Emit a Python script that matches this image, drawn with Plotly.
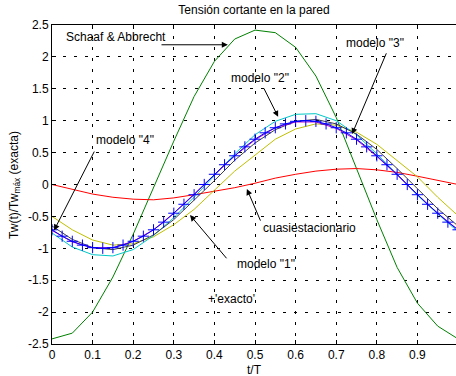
import plotly.graph_objects as go

# ---------------- data ----------------
t_exacto = [0.0, 0.025, 0.05, 0.075, 0.1, 0.125, 0.15, 0.175, 0.2, 0.225,
            0.25, 0.275, 0.3, 0.325, 0.35, 0.375, 0.4, 0.425, 0.45, 0.475,
            0.5, 0.525, 0.55, 0.575, 0.6, 0.625, 0.65, 0.675, 0.7, 0.725,
            0.75, 0.775, 0.8, 0.825, 0.85, 0.875, 0.9, 0.925, 0.95, 0.975, 1.0]
exacto = [-0.71, -0.81, -0.89, -0.95, -0.99, -1.0, -0.99, -0.95, -0.89, -0.81,
          -0.71, -0.59, -0.45, -0.31, -0.16, 0.0, 0.16, 0.31, 0.45, 0.59,
          0.71, 0.81, 0.89, 0.95, 0.99, 1.0, 0.99, 0.95, 0.89, 0.81,
          0.71, 0.59, 0.45, 0.31, 0.16, 0.0, -0.16, -0.31, -0.45, -0.59, -0.71]

t = [0.0, 0.05, 0.1, 0.15, 0.2, 0.25, 0.3, 0.35, 0.4, 0.45, 0.5,
     0.55, 0.6, 0.65, 0.7, 0.75, 0.8, 0.85, 0.9, 0.95, 1.0]
schaaf = [-2.42, -2.33, -2.0, -1.45, -0.78, -0.05, 0.68, 1.38, 1.93, 2.28, 2.42,
          2.38, 2.15, 1.70, 1.05, 0.25, -0.55, -1.3, -1.86, -2.22, -2.42]
cuasi = [0.0, -0.08, -0.15, -0.20, -0.23, -0.24, -0.21, -0.16, -0.11, -0.05, 0.02,
         0.10, 0.16, 0.21, 0.24, 0.25, 0.23, 0.19, 0.13, 0.07, 0.0]
modelo1 = [-0.50, -0.71, -0.87, -0.95, -0.93, -0.82, -0.63, -0.39, -0.09, 0.21, 0.46,
           0.71, 0.87, 0.95, 0.93, 0.82, 0.63, 0.38, 0.12, -0.20, -0.49]
modelo2 = [-0.76, -0.98, -1.10, -1.12, -1.02, -0.80, -0.52, -0.20, 0.14, 0.48, 0.78,
           0.99, 1.10, 1.11, 1.00, 0.78, 0.48, 0.16, -0.17, -0.46, -0.74]
modelo3 = [-0.65, -0.86, -0.99, -1.02, -0.95, -0.79, -0.55, -0.25, 0.06, 0.38, 0.65,
           0.86, 0.99, 1.02, 0.95, 0.79, 0.55, 0.25, -0.06, -0.38, -0.65]
modelo4 = [-0.72, -0.90, -0.99, -0.99, -0.89, -0.71, -0.45, -0.15, 0.16, 0.45, 0.70,
           0.89, 0.98, 0.98, 0.88, 0.70, 0.44, 0.15, -0.16, -0.45, -0.71]

x_ticks = [0, 0.1, 0.2, 0.3, 0.4, 0.5, 0.6, 0.7, 0.8, 0.9, 1.0]
x_labels = ["0", "0.1", "0.2", "0.3", "0.4", "0.5", "0.6", "0.7", "0.8", "0.9", "1"]
y_ticks = [-2.5, -2, -1.5, -1, -0.5, 0, 0.5, 1, 1.5, 2, 2.5]
y_labels = ["-2.5", "-2", "-1.5", "-1", "-0.5", "0", "0.5", "1", "1.5", "2", "2.5"]

FONT = "Liberation Sans, Arial, Helvetica, sans-serif"

fig = go.Figure()

def line(x, y, color):
    fig.add_trace(go.Scatter(x=x, y=y, mode="lines",
                             line=dict(color=color, width=1), showlegend=False,
                             hoverinfo="skip"))

line(t, schaaf, "#008000")
line(t, cuasi, "#FF0000")
line(t, modelo1, "#BFBF00")
line(t, modelo2, "#00C8C8")
line(t, modelo3, "#404040")
line(t, modelo4, "#C000C0")
fig.add_trace(go.Scatter(x=t_exacto, y=exacto, mode="lines+markers",
                         line=dict(color="#0000FF", width=1),
                         marker=dict(symbol="cross-thin", size=8,
                                     line=dict(color="#0000FF", width=1)),
                         showlegend=False, hoverinfo="skip"))

# ---------------- annotations ----------------
def arrow(x, y, ax, ay):
    fig.add_annotation(x=x, y=y, ax=ax, ay=ay, xref="x", yref="y",
                       axref="x", ayref="y", text="", showarrow=True,
                       arrowhead=2, arrowsize=1.2, arrowwidth=1,
                       arrowcolor="black")

def label(x, y, txt):
    fig.add_annotation(x=x, y=y, xref="x", yref="y", text=txt,
                       showarrow=False, font=dict(family=FONT, size=12, color="black"))

label(0.158, 2.31, "Schaaf &amp; Abbrecht")
arrow(0.433, 2.19, 0.266, 2.19)
label(0.179, 0.70, 'modelo "4"')
arrow(0.005, -0.72, 0.106, 0.54)
label(0.513, 1.67, 'modelo "2"')
arrow(0.557, 1.06, 0.52, 1.53)
label(0.796, 2.22, 'modelo "3"')
arrow(0.739, 0.79, 0.825, 2.08)
label(0.635, -0.68, "cuasiestacionario")
arrow(0.48, -0.07, 0.515, -0.59)
label(0.526, -1.25, 'modelo "1"')
arrow(0.34, -0.48, 0.433, -1.18)
label(0.441, -1.79, "+'exacto'")

# axis titles
fig.add_annotation(x=0.5, y=-0.082, xref="paper", yref="paper", text="t/T",
                   showarrow=False, yanchor="middle",
                   font=dict(family=FONT, size=12, color="black"))
fig.add_annotation(x=-0.093, y=0.5, xref="paper", yref="paper",
                   text="Tw(t)/Tw<sub>máx</sub> (exacta)", textangle=-90,
                   showarrow=False, xanchor="center", yanchor="middle",
                   font=dict(family=FONT, size=12, color="black"))

grid = dict(showgrid=True, gridcolor="black", gridwidth=1, griddash="3px,8px",
            zeroline=False, showline=True, linecolor="black", linewidth=1,
            ticks="inside", ticklen=4, tickcolor="black",
            tickfont=dict(family=FONT, size=12, color="black"))

fig.update_layout(
    width=456, height=376,
    margin=dict(l=52, r=0, t=25, b=32),
    paper_bgcolor="white", plot_bgcolor="white",
    title=dict(text="Tensión cortante en la pared", x=0.5, xref="paper",
               y=1 - 10 / 376, yref="container", yanchor="middle", xanchor="center",
               font=dict(family=FONT, size=12, color="black")),
    xaxis=dict(range=[0, 0.995], tickvals=x_ticks, ticktext=x_labels,
               mirror="ticks", **grid),
    yaxis=dict(range=[-2.5, 2.5], tickvals=y_ticks, ticktext=y_labels, **grid),
)

fig.write_html("out.html")
